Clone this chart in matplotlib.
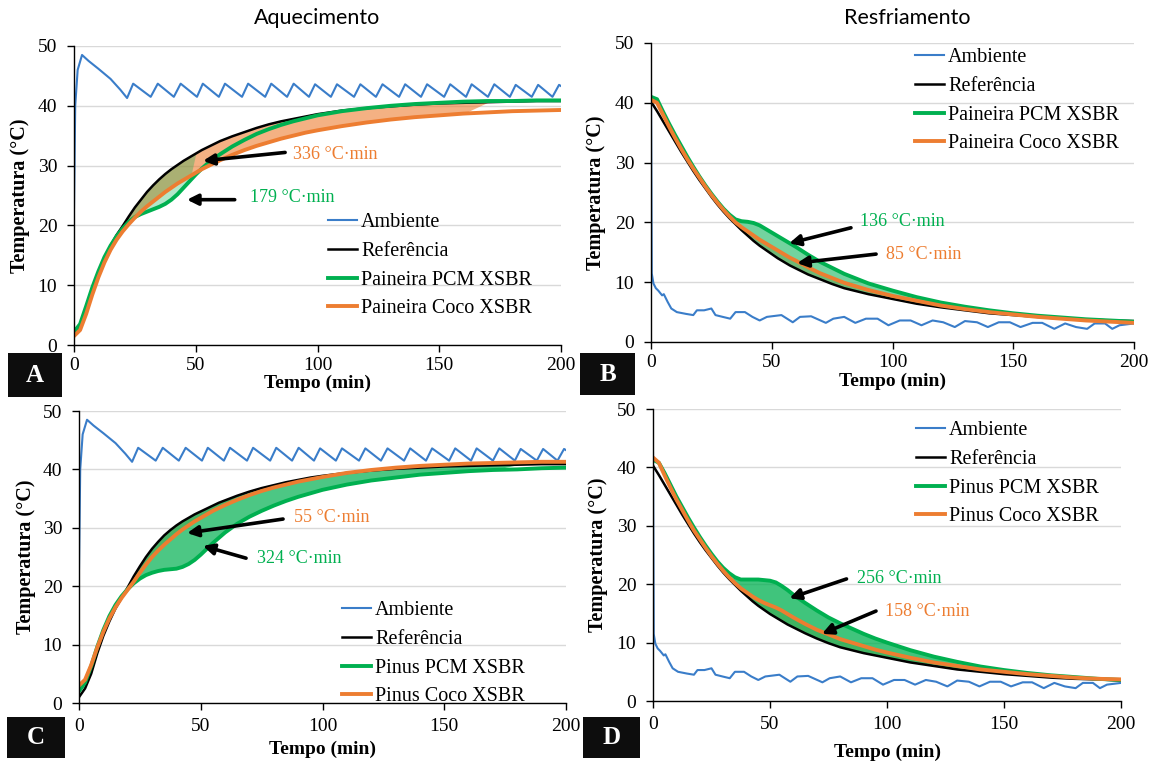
import matplotlib
matplotlib.use("Agg")
import matplotlib.pyplot as plt
from matplotlib.patches import Rectangle
import numpy as np

W, H = 1153, 763
SERIF = ["Liberation Serif", "DejaVu Serif"]

# ---------------- data ----------------
t_grid = [0, 2.5, 5, 7.5, 10, 12.5, 15, 17.5, 20, 22.5, 25, 27.5, 30, 32.5, 35, 37.5, 40,
          42.5, 45, 47.5, 50, 52.5, 55, 57.5, 60, 65, 70, 75, 80, 85, 90, 95, 100,
          110, 120, 130, 140, 150, 160, 170, 180, 190, 200]

# heating ambient (A, C)
amb_heat_t = [0, 0.5, 1.5, 3.3, 6, 10, 15, 19, 21.8, 24.3, 31.5, 34.4, 41, 43.8, 50.5, 52.9,
              59.5, 62, 69, 71.5, 78.5, 81, 87.5, 90.2, 96.5, 99, 105.5, 108, 115, 117.6,
              124, 126.7, 133.5, 136, 142.5, 145, 152, 154.5, 161, 163.3, 170, 172.6, 179,
              181.4, 188, 190.6, 196.5, 199.2, 200]
amb_heat_T = [23, 40, 46, 48.5, 47.5, 46.2, 44.5, 42.7, 41.3, 43.7, 41.5, 43.7, 41.5, 43.7,
              41.5, 43.7, 41.5, 43.7, 41.5, 43.7, 41.5, 43.7, 41.5, 43.7, 41.5, 43.6, 41.5,
              43.6, 41.5, 43.6, 41.5, 43.6, 41.5, 43.6, 41.5, 43.6, 41.5, 43.6, 41.5, 43.6,
              41.5, 43.6, 41.5, 43.5, 41.5, 43.5, 41.5, 43.5, 43.3]

# cooling ambient (B, D)
amb_cool_t = [0, 0.3, 1, 2, 3, 4.6, 5.3, 6.9, 8.4, 10.7, 14.5, 17.5, 19, 22, 25, 26.7, 29.7,
              32.8, 35, 38.9, 42, 45, 48, 54, 58.7, 61.7, 66.3, 72.4, 75.5, 80, 84.6, 89,
              93.8, 98.3, 103, 107.5, 112, 116.6, 121, 125.8, 130, 135, 139.5, 144, 148.6,
              153, 158, 162, 167, 171.5, 176, 180.6, 183.7, 188, 191, 194, 200]
amb_cool_T = [42.5, 11.5, 9.8, 9.0, 8.6, 7.8, 8.0, 6.7, 5.6, 5.0, 4.7, 4.5, 5.3, 5.3, 5.6,
              4.5, 4.2, 3.9, 5.0, 5.0, 4.2, 3.6, 4.2, 4.5, 3.3, 4.2, 4.3, 3.2, 3.9, 4.2, 3.2,
              3.9, 3.9, 2.8, 3.6, 3.6, 2.8, 3.6, 3.3, 2.5, 3.5, 3.3, 2.5, 3.3, 3.3, 2.5, 3.2,
              3.2, 2.2, 3.1, 2.5, 2.2, 3.1, 3.1, 2.2, 2.8, 3.1]

ref_A = [1.8, 3.2, 6.0, 9.2, 12.0, 14.5, 16.6, 18.4, 19.9, 21.5, 23.0, 24.3, 25.6, 26.7, 27.7,
         28.6, 29.4, 30.1, 30.8, 31.4, 32.0, 32.6, 33.1, 33.6, 34.1, 34.9, 35.6, 36.3, 36.9,
         37.4, 37.8, 38.2, 38.6, 39.2, 39.6, 39.9, 40.2, 40.4, 40.5, 40.6, 40.7, 40.8, 40.8]
pcm_A = [2.2, 3.5, 6.5, 9.6, 12.3, 14.7, 16.6, 18.2, 19.5, 20.6, 21.4, 21.9, 22.3, 22.7, 23.1,
         23.6, 24.3, 25.2, 26.3, 27.4, 28.5, 29.5, 30.4, 31.2, 31.9, 33.2, 34.3, 35.3, 36.1,
         36.8, 37.4, 37.9, 38.4, 39.1, 39.6, 40.0, 40.3, 40.5, 40.7, 40.8, 40.8, 40.9, 40.9]
coco_A = [1.5, 2.5, 5.2, 8.4, 11.3, 13.8, 15.9, 17.6, 19.0, 20.2, 21.3, 22.3, 23.2, 24.0, 24.8,
          25.6, 26.3, 27.0, 27.6, 28.2, 28.8, 29.4, 29.9, 30.4, 30.9, 31.8, 32.6, 33.3, 33.9,
          34.5, 35.0, 35.5, 35.9, 36.6, 37.2, 37.7, 38.1, 38.4, 38.7, 38.9, 39.1, 39.2, 39.3]

ref_C = [1.0, 2.5, 5.0, 8.5, 11.5, 14.0, 16.2, 18.0, 19.8, 21.7, 23.4, 25.0, 26.4, 27.6, 28.7,
         29.6, 30.4, 31.1, 31.7, 32.3, 32.8, 33.3, 33.8, 34.3, 34.7, 35.5, 36.2, 36.8, 37.3,
         37.8, 38.2, 38.6, 38.9, 39.4, 39.8, 40.1, 40.3, 40.5, 40.6, 40.7, 40.8, 40.9, 40.9]
pcm_C = [2.0, 3.5, 6.3, 9.6, 12.5, 14.9, 16.8, 18.3, 19.5, 20.5, 21.3, 21.9, 22.3, 22.6, 22.8,
         22.9, 23.0, 23.3, 23.8, 24.5, 25.4, 26.4, 27.4, 28.3, 29.2, 30.7, 31.9, 32.9, 33.8,
         34.6, 35.3, 35.9, 36.5, 37.4, 38.1, 38.6, 39.1, 39.4, 39.7, 39.9, 40.0, 40.2, 40.3]
coco_C = [3.0, 4.0, 6.5, 9.5, 12.2, 14.5, 16.4, 18.0, 19.4, 20.8, 22.3, 23.7, 25.0, 26.1, 27.1,
          28.0, 28.9, 29.7, 30.4, 31.1, 31.7, 32.3, 32.9, 33.4, 33.9, 34.8, 35.6, 36.3, 36.9,
          37.4, 37.9, 38.3, 38.7, 39.4, 39.9, 40.3, 40.6, 40.8, 41.0, 41.1, 41.2, 41.3, 41.3]

ref_B = [40.2, 38.6, 36.9, 35.2, 33.5, 31.8, 30.2, 28.6, 27.1, 25.7, 24.3, 23.0, 21.8, 20.7,
         19.7, 18.7, 17.8, 16.9, 16.1, 15.4, 14.7, 14.0, 13.4, 12.8, 12.3, 11.3, 10.5, 9.7,
         9.0, 8.5, 8.0, 7.6, 7.2, 6.4, 5.8, 5.3, 4.8, 4.5, 4.2, 3.9, 3.8, 3.6, 3.5]
pcm_B = [41.0, 40.6, 38.5, 36.5, 34.6, 32.8, 31.0, 29.3, 27.7, 26.2, 24.8, 23.5, 22.3, 21.3,
         20.5, 20.2, 20.1, 19.9, 19.5, 18.9, 18.3, 17.7, 17.1, 16.5, 15.9, 14.6, 13.4, 12.4,
         11.4, 10.6, 9.8, 9.2, 8.6, 7.5, 6.6, 5.9, 5.3, 4.8, 4.4, 4.1, 3.8, 3.6, 3.4]
coco_B = [40.5, 40.0, 38.0, 36.0, 34.1, 32.3, 30.6, 29.0, 27.5, 26.0, 24.6, 23.3, 22.1, 21.0,
          20.0, 19.2, 18.5, 17.8, 17.1, 16.5, 15.9, 15.3, 14.7, 14.1, 13.6, 12.5, 11.5, 10.7,
          9.9, 9.3, 8.7, 8.2, 7.7, 6.9, 6.1, 5.5, 5.0, 4.6, 4.2, 3.9, 3.6, 3.4, 3.2]

ref_D = [40.3, 38.7, 37.0, 35.3, 33.6, 31.9, 30.3, 28.7, 27.2, 25.8, 24.5, 23.2, 22.0, 20.9,
         19.9, 18.9, 18.0, 17.1, 16.3, 15.6, 14.9, 14.3, 13.7, 13.1, 12.6, 11.6, 10.7, 9.9,
         9.2, 8.7, 8.2, 7.8, 7.4, 6.6, 6.0, 5.4, 5.0, 4.6, 4.3, 4.0, 3.8, 3.7, 3.5]
pcm_D = [41.3, 40.8, 39.0, 37.0, 35.0, 33.2, 31.4, 29.7, 28.1, 26.6, 25.2, 23.9, 22.8, 21.9,
         21.2, 20.8, 20.8, 20.8, 20.8, 20.7, 20.6, 20.3, 19.7, 19.0, 18.2, 16.8, 15.5, 14.3,
         13.3, 12.4, 11.5, 10.7, 10.0, 8.7, 7.6, 6.7, 5.9, 5.3, 4.8, 4.4, 4.1, 3.8, 3.6]
coco_D = [41.7, 40.8, 38.6, 36.5, 34.5, 32.7, 30.9, 29.2, 27.7, 26.2, 24.8, 23.5, 22.3, 21.2,
          20.2, 19.3, 18.6, 17.9, 17.3, 16.8, 16.4, 16.0, 15.5, 14.9, 14.3, 13.2, 12.2, 11.4,
          10.6, 10.0, 9.4, 8.8, 8.3, 7.4, 6.6, 6.0, 5.4, 5.0, 4.6, 4.3, 4.0, 3.8, 3.7]

labels_paineira = ["Ambiente", "Referência", "Paineira PCM XSBR", "Paineira Coco XSBR"]
labels_pinus = ["Ambiente", "Referência", "Pinus PCM XSBR", "Pinus Coco XSBR"]
x_ticks = [0, 50, 100, 150, 200]
y_ticks = [0, 10, 20, 30, 40, 50]

C_AMB = "#3A7DC9"
C_REF = "#000000"
C_PCM = "#00B050"
C_COCO = "#ED7D31"

fig = plt.figure(figsize=(W / 100, H / 100), dpi=100)


def ax_px(l, r, top, bot):
    return fig.add_axes([l / W, 1 - bot / H, (r - l) / W, (bot - top) / H])


def setup(ax, xlabel_y, ylabel_x, tickpad_x):
    ax.set_xlim(0, 200)
    ax.set_ylim(0, 50)
    ax.set_xticks(x_ticks)
    ax.set_yticks(y_ticks)
    for s in ["top", "right"]:
        ax.spines[s].set_visible(False)
    for s in ["left", "bottom"]:
        ax.spines[s].set_color("black")
        ax.spines[s].set_linewidth(1.0)
    ax.grid(axis="y", color="#d9d9d9", lw=1.0)
    ax.set_axisbelow(True)
    ax.tick_params(axis="x", direction="out", length=5, width=1, pad=tickpad_x, labelsize=14)
    ax.tick_params(axis="y", direction="out", length=5, width=1, pad=7, labelsize=14)
    for lab in ax.get_xticklabels() + ax.get_yticklabels():
        lab.set_fontfamily(SERIF)
    ax.set_xlabel("Tempo (min)", fontsize=14, fontweight="bold", family=SERIF)
    ax.set_ylabel("Temperatura (°C)", fontsize=14.5, fontweight="bold", family=SERIF)
    ax.xaxis.set_label_coords(0.5, xlabel_y)
    ax.yaxis.set_label_coords(ylabel_x, 0.5)


def draw(ax, amb_t, amb_T, ref, pcm, coco, fill_coco, fill_pcm, a_coco, a_pcm):
    g = np.array(t_grid)
    r = np.array(ref)
    p = np.array(pcm)
    c = np.array(coco)
    mc = (g >= fill_coco[0]) & (g <= fill_coco[1])
    mp = (g >= fill_pcm[0]) & (g <= fill_pcm[1])
    ax.fill_between(g, r, c, where=mc, color=C_COCO, alpha=a_coco, lw=0, interpolate=True)
    ax.fill_between(g, r, p, where=mp, color=C_PCM, alpha=a_pcm, lw=0, interpolate=True)
    l1, = ax.plot(amb_t, amb_T, color=C_AMB, lw=1.5)
    l2, = ax.plot(g, r, color=C_REF, lw=1.8)
    l3, = ax.plot(g, p, color=C_PCM, lw=2.8)
    l4, = ax.plot(g, c, color=C_COCO, lw=2.8)
    return [l1, l2, l3, l4]


def legend(ax, handles, labels, x_px, top_px):
    ax.legend(handles, labels, loc="upper left",
              bbox_to_anchor=(x_px / W, 1 - top_px / H), bbox_transform=fig.transFigure,
              frameon=False, borderpad=0, borderaxespad=0, handlelength=1.45,
              handletextpad=0.2, labelspacing=0.48,
              prop={"family": SERIF, "size": 14.5})


def note(ax, text, color, txy, tail, head):
    ax.annotate("", xy=head, xytext=tail,
                arrowprops=dict(arrowstyle="-|>", color="black", lw=2.6,
                                mutation_scale=16, shrinkA=0, shrinkB=0))
    ax.text(txy[0], txy[1], text, color=color, fontsize=13, family=SERIF,
            ha="left", va="center")


# ---- Panel A ----
axA = ax_px(74, 561, 46, 345)
setup(axA, -0.10, -0.09, 4)
hA = draw(axA, amb_heat_t, amb_heat_T, ref_A, pcm_A, coco_A, (20, 165), (20, 47.5), 0.6, 0.3)
legend(axA, hA, labels_paineira, 328, 213)
note(axA, "336 °C·min", C_COCO, (90, 31.9), (86.7, 32.2), (53, 30.8))
note(axA, "179 °C·min", C_PCM, (72.3, 24.6), (66, 24.3), (46.4, 24.3))

# ---- Panel B ----
axB = ax_px(651, 1134, 43, 342)
setup(axB, -0.104, -0.093, 4)
hB = draw(axB, amb_cool_t, amb_cool_T, ref_B, pcm_B, coco_B, (35, 120), (35, 170), 0.45, 0.55)
legend(axB, hB, labels_paineira, 915, 48)
note(axB, "136 °C·min", C_PCM, (86.5, 20.2), (82.8, 19.1), (57.2, 16.5))
note(axB, "85 °C·min", C_COCO, (97.3, 14.7), (93.2, 14.7), (60.5, 13.2))

# ---- Panel C ----
axC = ax_px(79, 566, 411, 703)
setup(axC, -0.13, -0.088, 6)
hC = draw(axC, amb_heat_t, amb_heat_T, ref_C, pcm_C, coco_C, (22.5, 60), (22.5, 170), 0.5, 0.7)
legend(axC, hC, labels_pinus, 342, 601)
note(axC, "55 °C·min", C_COCO, (88.3, 31.7), (83.8, 31.5), (44.4, 29.1))
note(axC, "324 °C·min", C_PCM, (73.1, 24.8), (68.6, 24.8), (50.9, 26.9))

# ---- Panel D ----
axD = ax_px(653, 1121, 409, 701)
setup(axD, -0.147, -0.096, 6)
hD = draw(axD, amb_cool_t, amb_cool_T, ref_D, pcm_D, coco_D, (35, 130), (35, 170), 0.5, 0.75)
legend(axD, hD, labels_pinus, 916, 421)
note(axD, "256 °C·min", C_PCM, (87.2, 20.9), (82.7, 20.9), (58.3, 17.6))
note(axD, "158 °C·min", C_COCO, (99.1, 15.4), (95.3, 15.4), (72.2, 11.5))

# ---- titles ----
fig.text(317 / W, 1 - 18 / H, "Aquecimento", ha="center", va="center", fontsize=15.5,
         family=["Lato", "DejaVu Sans"])
fig.text(907 / W, 1 - 18 / H, "Resfriamento", ha="center", va="center", fontsize=15.5,
         family=["Lato", "DejaVu Sans"])

# ---- panel letter boxes ----
for letter, (x0, y0, x1, y1) in {"A": (8, 353, 62, 397), "B": (580, 353, 635, 395),
                                 "C": (7, 717, 65, 758), "D": (583, 717, 640, 758)}.items():
    fig.add_artist(Rectangle((x0 / W, 1 - y1 / H), (x1 - x0) / W, (y1 - y0) / H,
                             transform=fig.transFigure, facecolor="#0d0d0d",
                             edgecolor="none"))
    fig.text((x0 + x1) / 2 / W, 1 - (y0 + y1) / 2 / H, letter, color="white",
             fontsize=18, fontweight="bold", family=SERIF, ha="center", va="center")

fig.savefig("out.png", dpi=100)
